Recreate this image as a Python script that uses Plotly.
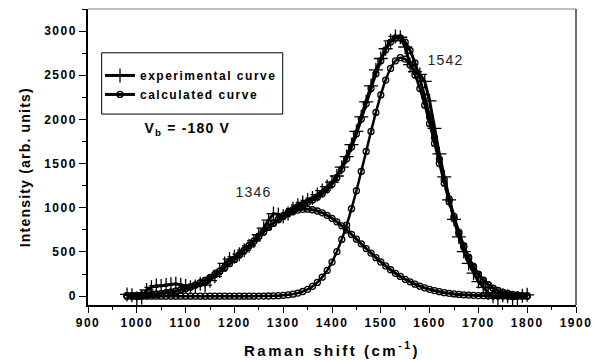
import plotly.graph_objects as go

# Raman shift sampling grid (cm^-1)
raman_shift = list(range(980, 1810, 10))

# Measured spectrum, V_b = -180 V
experimental = [
    20, 10, -30, -15, 70, 100, 120, 115, 125, 135,
    140, 130, 115, 100, 110, 140, 125, 175, 225, 285,
    370, 420, 445, 475, 520, 570, 625, 695, 770, 860,
    935, 925, 905, 935, 990, 1030, 1060, 1085, 1110, 1150,
    1195, 1240, 1290, 1360, 1460, 1580, 1715, 1865, 2030, 2200,
    2380, 2560, 2690, 2800, 2890, 2940, 2930, 2820, 2620, 2540,
    2510, 2430, 2210, 1900, 1610, 1350, 1090, 870, 670, 505,
    370, 260, 165, 100, 40, 0, -20, 10, 0, -30,
    -20, 5, 15,
]

# Fitted D band (1346 cm^-1)
band_d = [
    5, 6, 8, 11, 14, 18, 23, 29, 37, 46,
    57, 71, 87, 105, 126, 151, 178, 210, 244, 283,
    324, 369, 416, 466, 518, 571, 624, 677, 729, 778,
    824, 865, 902, 933, 957, 974, 983, 985, 978, 964,
    943, 915, 881, 841, 796, 749, 698, 645, 592, 539,
    487, 436, 387, 342, 299, 259, 223, 191, 162, 136,
    113, 94, 77, 63, 51, 40, 32, 25, 20, 15,
    12, 9, 7, 5, 4, 3, 2, 2, 1, 1,
    1, 0, 0,
]

# Fitted G band (1542 cm^-1)
band_g = [
    0, 0, 0, 0, 0, 0, 0, 0, 0, 0,
    0, 0, 0, 0, 0, 0, 0, 0, 0, 0,
    0, 0, 0, 0, 0, 0, 0, 1, 1, 2,
    4, 6, 10, 15, 23, 35, 53, 77, 111, 156,
    215, 291, 386, 503, 642, 805, 990, 1193, 1412, 1638,
    1864, 2080, 2278, 2446, 2577, 2663, 2699, 2683, 2617, 2503,
    2349, 2162, 1952, 1729, 1501, 1279, 1069, 877, 705, 556,
    430, 326, 243, 177, 127, 89, 62, 42, 28, 18,
    11, 7, 4,
]

# Sum of the fitted bands
calculated = [
    5, 6, 8, 11, 14, 18, 23, 29, 37, 46,
    57, 71, 87, 105, 126, 151, 178, 210, 244, 283,
    324, 369, 416, 466, 518, 571, 624, 678, 730, 780,
    828, 871, 912, 948, 980, 1009, 1036, 1062, 1089, 1120,
    1158, 1206, 1267, 1344, 1438, 1554, 1688, 1838, 2004, 2177,
    2351, 2516, 2665, 2788, 2876, 2922, 2922, 2874, 2779, 2639,
    2462, 2256, 2029, 1792, 1552, 1319, 1101, 902, 725, 571,
    442, 335, 250, 182, 131, 92, 64, 44, 29, 19,
    12, 7, 4,
]

x_ticks = [900, 1000, 1100, 1200, 1300, 1400, 1500, 1600, 1700, 1800, 1900]
y_ticks = [0, 500, 1000, 1500, 2000, 2500, 3000]

FONT = "Arial, Liberation Sans, sans-serif"

fig = go.Figure()

fig.add_trace(go.Scatter(
    x=raman_shift, y=experimental, name="experimental curve",
    mode="lines+markers",
    line=dict(color="black", width=3),
    marker=dict(symbol="cross-thin", size=10, line=dict(color="black", width=1.3)),
))

circle_marker = dict(symbol="circle-open", size=6, color="black",
                     line=dict(color="black", width=1.3))

fig.add_trace(go.Scatter(
    x=raman_shift, y=calculated, name="calculated curve",
    mode="lines+markers", line=dict(color="black", width=3, shape="spline"),
    marker=circle_marker,
))
fig.add_trace(go.Scatter(
    x=raman_shift, y=band_d, name="D band", showlegend=False,
    mode="lines+markers", line=dict(color="black", width=3, shape="spline"),
    marker=circle_marker,
))
fig.add_trace(go.Scatter(
    x=raman_shift, y=band_g, name="G band", showlegend=False,
    mode="lines+markers", line=dict(color="black", width=2.5, shape="spline"),
    marker=circle_marker,
))

axis_common = dict(
    showgrid=False, zeroline=False, showline=True, linecolor="black",
    linewidth=1.5, ticks="outside", tickcolor="black", tickwidth=1.2,
    automargin=False,
    tickfont=dict(family=FONT, size=12, color="black", weight="bold"),
)

fig.update_xaxes(
    range=[900, 1900], tickvals=x_ticks, ticklen=6,
    minor=dict(dtick=50, ticks="outside", ticklen=3, tickcolor="black", tickwidth=1.2),
    title=dict(text="Raman shift (cm<sup>-1</sup>)", standoff=16,
               font=dict(family=FONT, size=15, color="black", weight="bold")),
    **axis_common,
)
fig.update_yaxes(
    range=[-100, 3250], tickvals=y_ticks, ticklen=7,
    minor=dict(tick0=0, dtick=250, ticks="outside", ticklen=4, tickcolor="black", tickwidth=1.2),
    **axis_common,
)

# y-axis title, set slightly below the plot centre
fig.add_annotation(x=-0.129, y=0.466, xref="paper", yref="paper",
                   xanchor="center", yanchor="middle",
                   text="Intensity (arb. units)", textangle=-90, showarrow=False,
                   font=dict(family=FONT, size=14, color="black", weight="bold"))

# grey frame on the top and right edges
fig.add_shape(type="line", xref="paper", yref="paper", x0=0, x1=1, y0=1, y1=1,
              line=dict(color="#808080", width=1))
fig.add_shape(type="line", xref="paper", yref="paper", x0=1, x1=1, y0=0, y1=1,
              line=dict(color="#6e6e6e", width=2))

# legend frame
fig.add_shape(type="rect", xref="paper", yref="paper",
              x0=0.028, x1=0.399, y0=0.645, y1=0.852,
              line=dict(color="black", width=1))

fig.add_annotation(x=0.203, y=0.595, xref="paper", yref="paper",
                   xanchor="center", yanchor="middle",
                   text="V<sub>b</sub> = -180 V", showarrow=False,
                   font=dict(family=FONT, size=14, color="black", weight="bold"))
fig.add_annotation(x=1239, y=1177, text="1346", showarrow=False,
                   xanchor="center", yanchor="middle",
                   font=dict(family=FONT, size=14, color="#222222"))
fig.add_annotation(x=1632, y=2672, text="1542", showarrow=False,
                   xanchor="center", yanchor="middle",
                   font=dict(family=FONT, size=14, color="#222222"))

fig.update_layout(
    width=597, height=360,
    margin=dict(l=88, r=21, t=9, b=55, autoexpand=False),
    paper_bgcolor="white", plot_bgcolor="white",
    showlegend=True,
    legend=dict(x=0.0246, y=0.8245, xanchor="left", yanchor="top",
                bgcolor="rgba(0,0,0,0)", borderwidth=0,
                font=dict(family=FONT, size=12, color="black", weight="bold")),
)

# Origin-style wide letter spacing on the text; legend clipping lifted so
# the wider entries stay whole
spacing_js = """
document.querySelectorAll('.legend [clip-path]').forEach(function(e){e.removeAttribute('clip-path');});
document.querySelectorAll('.xtick text, .ytick text, .legendtext').forEach(function(t){t.style.letterSpacing='1.5px';});
document.querySelectorAll('.xtitle').forEach(function(t){t.style.letterSpacing='2.5px';});
document.querySelectorAll('.annotation-text').forEach(function(t){t.style.letterSpacing='1.2px';});
"""

fig.write_html("out.html", post_script=spacing_js)
